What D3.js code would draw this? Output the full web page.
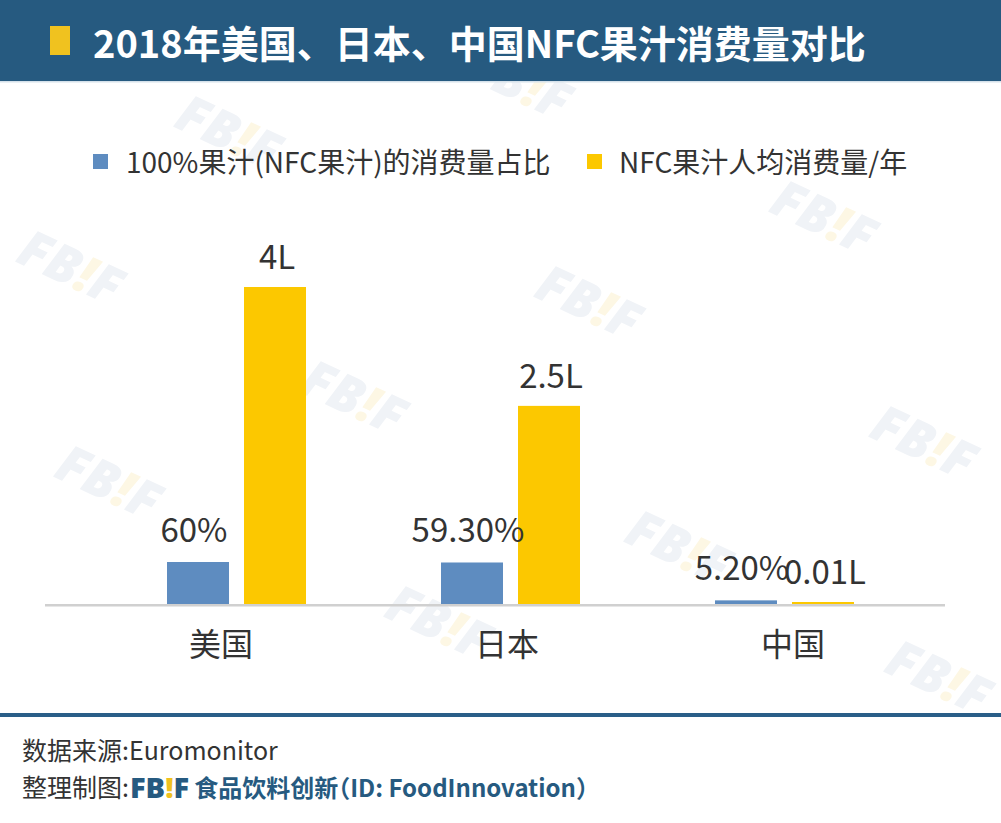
<!DOCTYPE html>
<html><head><meta charset="utf-8">
<script src="https://cdn.jsdelivr.net/npm/d3@7"></script>
<style>
html,body{margin:0;padding:0;background:#fff;}
svg{display:block;font-family:"Noto Sans CJK SC","Noto Sans",sans-serif;}
</style></head>
<body>
<script>
const title = "2018年美国、日本、中国NFC果汁消费量对比";
const categories = ["美国", "日本", "中国"];
const seriesNames = ["100%果汁(NFC果汁)的消费量占比", "NFC果汁人均消费量/年"];
const shareValues = [60, 59.3, 5.2];
const shareLabels = ["60%", "59.30%", "5.20%"];
const volumeValues = [4, 2.5, 0.01];
const volumeLabels = ["4L", "2.5L", "0.01L"];
const colors = ["#5e8cc0", "#fcc800"];

const W = 1001, H = 823;
const svg = d3.select("body").append("svg").attr("width", W).attr("height", H);

// watermarks (decorative)
const wm = [[230,130],[72,265],[590,300],[825,215],[355,395],[110,480],[925,440],[680,545],[440,620],[940,675],[520,80]];
wm.forEach(([x,y]) => {
  const t = svg.append("text").attr("transform", `translate(${x},${y}) rotate(25)`)
    .attr("text-anchor","middle").attr("dominant-baseline","central")
    .attr("font-family","'Open Sans','DejaVu Sans',sans-serif").attr("font-weight",800)
    .attr("font-size",52).attr("font-style","italic").attr("fill","#f0f3f7");
  t.append("tspan").text("FB");
  t.append("tspan").attr("fill","#fdf7e4").text("!");
  t.append("tspan").text("F");
});

// header
svg.append("rect").attr("x",0).attr("y",0).attr("width",W).attr("height",81).attr("fill","#265a80");
svg.append("rect").attr("x",0).attr("y",81).attr("width",W).attr("height",1.5).attr("fill","#d5e1ea");
svg.append("rect").attr("x",50).attr("y",26).attr("width",20).attr("height",29).attr("fill","#f0c21f");
svg.append("text").attr("x",93).attr("y",41).attr("dominant-baseline","central")
  .attr("font-size",38).attr("font-weight",700).attr("fill","#fff").text(title);

// legend
const legendX = [93, 587];
const legendTextX = [126, 619];
seriesNames.forEach((s,i) => {
  svg.append("rect").attr("x",legendX[i]).attr("y",154).attr("width",15).attr("height",15).attr("fill",colors[i]);
  svg.append("text").attr("x",legendTextX[i]).attr("y",161).attr("dominant-baseline","central")
    .attr("font-size",28).attr("fill","#333").text(s);
});

// scales
const baseY = 604;
const x0 = d3.scaleBand().domain(categories).range([99.5, 921.5]).paddingInner(0.4927).paddingOuter(0.2464);
const x1 = d3.scaleBand().domain([0,1]).range([0, x0.bandwidth()]).paddingInner(0.1948);
const xLabel = d3.scaleBand().domain(categories).range([78, 936]);
const yShare = d3.scaleLinear().domain([0, 60]).range([baseY, 562]);
const yVol = d3.scaleLinear().domain([0, 4]).range([baseY, 287]);

const g = svg.append("g");
categories.forEach((c,i) => {
  const bx = x0(c);
  const sTop = yShare(shareValues[i]);
  const vTop = Math.min(yVol(volumeValues[i]), baseY - 2);
  g.append("rect").attr("x", bx + x1(0)).attr("y", sTop).attr("width", x1.bandwidth())
    .attr("height", baseY - sTop).attr("fill", colors[0]);
  g.append("rect").attr("x", bx + x1(1)).attr("y", vTop).attr("width", x1.bandwidth())
    .attr("height", baseY - vTop).attr("fill", colors[1]);
  g.append("text").attr("x", bx + x1(0) + x1.bandwidth()/2 - 4).attr("y", sTop - 20)
    .attr("text-anchor","middle").attr("font-size",33).attr("fill","#333").text(shareLabels[i]);
  g.append("text").attr("x", bx + x1(1) + x1.bandwidth()/2 + 2).attr("y", vTop - 18)
    .attr("text-anchor","middle").attr("font-size",33).attr("fill","#333").text(volumeLabels[i]);
});

// axis
const xAxis = d3.axisBottom(xLabel).tickSize(0).tickPadding(0);
const ax = svg.append("g").attr("transform", `translate(0,${baseY})`).call(xAxis);
ax.select(".domain").remove();
ax.selectAll("text").attr("font-size",32).attr("fill","#333").attr("dy",null)
  .attr("y",38).attr("dominant-baseline","central")
  .attr("font-family","'Noto Sans CJK SC',sans-serif");
svg.append("line").attr("x1",45).attr("x2",945).attr("y1",baseY+1.3).attr("y2",baseY+1.3)
  .attr("stroke","#d0d0d0").attr("stroke-width",2.6);

// footer
svg.append("rect").attr("x",0).attr("y",713).attr("width",W).attr("height",4).attr("fill","#2a5e88");
svg.append("text").attr("x",22).attr("y",749).attr("dominant-baseline","central")
  .attr("font-size",25).attr("fill","#333").text("数据来源:Euromonitor");
const f = svg.append("text").attr("x",22).attr("y",786).attr("dominant-baseline","central").attr("font-size",25);
f.append("tspan").attr("fill","#333").text("整理制图:");
const bf = {"font-weight":800, "font-family":"'Open Sans',sans-serif", "font-size":29};
const t1 = f.append("tspan").attr("fill","#265a80").attr("dx",1).text("FB");
const t2 = f.append("tspan").attr("fill","#f0c21f").text("!");
const t3 = f.append("tspan").attr("fill","#265a80").text("F");
[t1,t2,t3].forEach(t => Object.entries(bf).forEach(([k,v]) => t.attr(k,v)));
f.append("tspan").attr("fill","#265a80").attr("font-weight",700).attr("font-size",24).attr("dx",5).text("食品饮料创新");
f.append("tspan").attr("fill","#265a80").attr("font-weight",700).attr("font-size",24).attr("dx",-12).text("（");
f.append("tspan").attr("fill","#265a80").attr("font-weight",700).attr("font-size",24).text("ID: FoodInnovation");
f.append("tspan").attr("fill","#265a80").attr("font-weight",700).attr("font-size",24).text("）");
</script>
</body></html>
